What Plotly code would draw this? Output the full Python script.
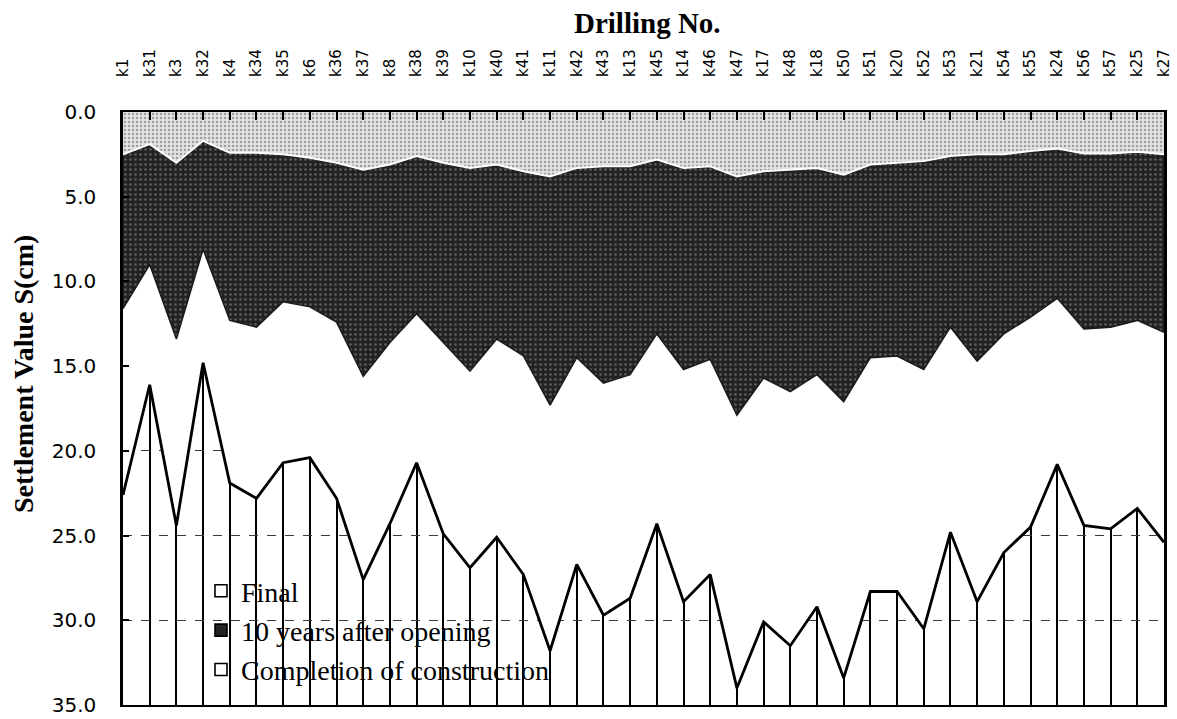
import plotly.graph_objects as go

# ---------------- data ----------------
drilling_no = ["k1", "k31", "k3", "k32", "k4", "k34", "k35", "k6", "k36", "k37",
               "k8", "k38", "k39", "k10", "k40", "k41", "k11", "k42", "k43", "k13",
               "k45", "k14", "k46", "k47", "k17", "k48", "k18", "k50", "k51", "k20",
               "k52", "k53", "k21", "k54", "k55", "k24", "k56", "k57", "k25", "k27"]

completion = [2.5, 1.9, 3.0, 1.7, 2.4, 2.4, 2.5, 2.7, 3.0, 3.4,
              3.1, 2.6, 3.0, 3.3, 3.1, 3.5, 3.8, 3.3, 3.2, 3.2,
              2.8, 3.3, 3.2, 3.8, 3.5, 3.4, 3.3, 3.7, 3.1, 3.0,
              2.9, 2.6, 2.5, 2.5, 2.3, 2.15, 2.45, 2.45, 2.35, 2.5]

ten_years = [11.6, 9.0, 13.4, 8.1, 12.3, 12.7, 11.2, 11.5, 12.4, 15.6,
             13.6, 11.9, 13.6, 15.3, 13.4, 14.4, 17.3, 14.5, 16.0, 15.5,
             13.1, 15.2, 14.6, 17.9, 15.7, 16.5, 15.5, 17.1, 14.5, 14.4,
             15.2, 12.7, 14.7, 13.1, 12.1, 11.0, 12.8, 12.7, 12.3, 13.0]

final = [22.6, 16.1, 24.4, 14.8, 21.9, 22.8, 20.7, 20.4, 22.8, 27.6,
         24.3, 20.7, 24.9, 26.9, 25.1, 27.3, 31.8, 26.7, 29.7, 28.7,
         24.3, 28.9, 27.3, 34.0, 30.1, 31.5, 29.2, 33.4, 28.3, 28.3,
         30.5, 24.8, 28.9, 26.0, 24.5, 20.8, 24.4, 24.6, 23.4, 25.4]

y_ticks = [0, 5, 10, 15, 20, 25, 30, 35]

legend_names = ["Final", "10 years after opening", "Completion of construction"]

# ---------------- style ----------------
LIGHT = "#d4d4d4"
DARK = "#2e2e2e"
SERIF = "Liberation Serif"
SANS = "DejaVu Sans"

W, H = 1177, 719
L, R, T, B = 123, 13, 112, 14
ph = H - T - B

fig = go.Figure()

fig.add_trace(go.Scatter(
    x=drilling_no, y=completion, mode="lines", fill="tozeroy",
    fillcolor=LIGHT,
    fillpattern=dict(shape=".", bgcolor="#e2e2e2", fgcolor="#5a5a5a", size=4, solidity=0.3),
    line=dict(color="white", width=2), showlegend=False, hoverinfo="skip"))

fig.add_trace(go.Scatter(
    x=drilling_no, y=ten_years, mode="lines", fill="tonexty",
    fillcolor=DARK,
    fillpattern=dict(shape=".", bgcolor="#222222", fgcolor="#9a9a9a", size=5, solidity=0.22),
    line=dict(color="#1a1a1a", width=1.5), showlegend=False, hoverinfo="skip"))

fig.add_trace(go.Scatter(
    x=drilling_no, y=final, mode="lines", fill="tonexty",
    fillcolor="white",
    line=dict(color="black", width=2.8), showlegend=False, hoverinfo="skip"))

legend_fill = ["white", "#222222", "white"]
for nm, fc in zip(legend_names, legend_fill):
    fig.add_trace(go.Scatter(
        x=[None], y=[None], mode="markers", name=nm,
        marker=dict(symbol="square", size=12, color=fc,
                    line=dict(color="black", width=1.6))))

fig.update_layout(
    width=W, height=H,
    margin=dict(l=L, r=R, t=T, b=B, autoexpand=False),
    paper_bgcolor="white", plot_bgcolor="white",
    showlegend=True,
    legend=dict(x=(201 - L) / (W - L - R), y=(H - B - 566) / ph,
                xanchor="left", yanchor="top", traceorder="normal",
                bgcolor="rgba(0,0,0,0)", borderwidth=0,
                font=dict(family=SERIF, size=28, color="black"),
                itemwidth=30, tracegroupgap=0),
)

fig.update_xaxes(
    type="category", side="top", range=[0, len(drilling_no) - 1],
    tickmode="array", tickvals=drilling_no, ticktext=drilling_no,
    tickangle=-90, tickfont=dict(family=SANS, size=15, color="black"),
    ticks="inside", ticklen=8, tickwidth=2, tickcolor="black",
    ticklabelstandoff=30,
    showgrid=True, gridcolor="black", gridwidth=1.6,
    showline=True, linecolor="black", linewidth=2, mirror=True,
    zeroline=False, automargin=False,
)

fig.update_yaxes(
    range=[35, 0], tickmode="array", tickvals=y_ticks, tickformat=".1f",
    tickfont=dict(family=SANS, size=20, color="black"),
    ticks="inside", ticklen=6, tickwidth=1.5, tickcolor="black",
    ticklabelstandoff=20,
    showgrid=True, gridcolor="#3a3a3a", gridwidth=1, griddash="dash",
    showline=True, linecolor="black", linewidth=2.5, mirror=True,
    zeroline=False, automargin=False,
)

fig.add_annotation(
    text="Drilling No.", xref="paper", yref="paper",
    x=(647 - L) / (W - L - R), y=(H - B - 23) / ph,
    xanchor="center", yanchor="middle", showarrow=False,
    font=dict(family=SERIF, size=29, color="black", weight="bold"))

fig.add_annotation(
    text="Settlement Value S(cm)", xref="paper", yref="paper",
    x=(23 - L) / (W - L - R), y=(H - B - 374) / ph,
    xanchor="center", yanchor="middle", textangle=-90, showarrow=False,
    font=dict(family=SERIF, size=28, color="black", weight="bold"))

fig.write_html("out.html")
